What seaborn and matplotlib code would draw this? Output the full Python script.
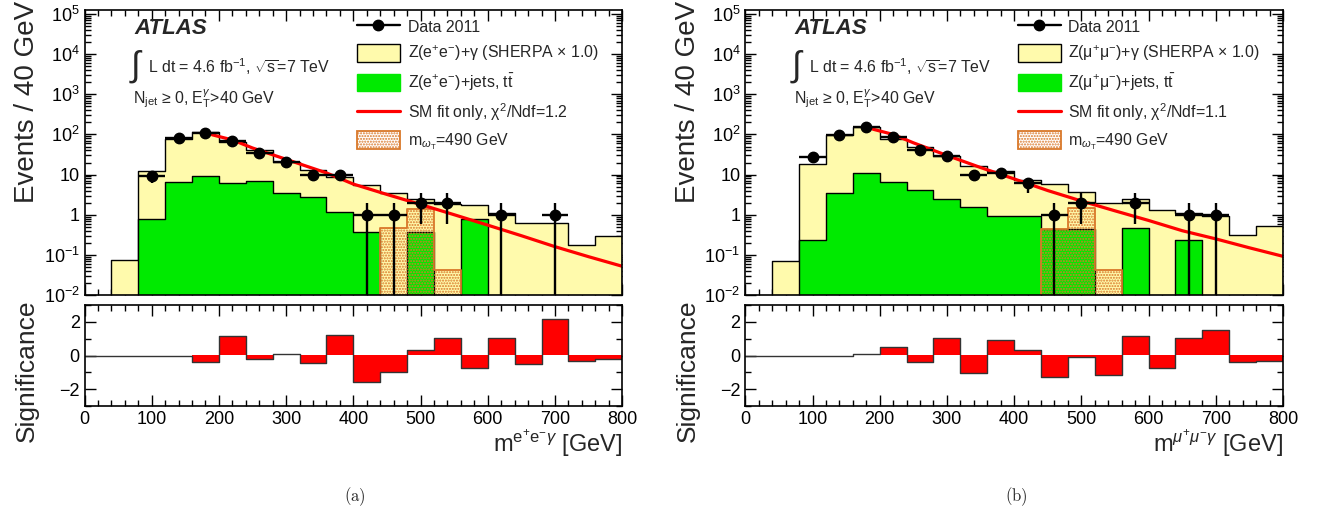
import matplotlib
matplotlib.use("Agg")
import matplotlib.pyplot as plt
import numpy as np
import pandas as pd
import seaborn as sns
from matplotlib.lines import Line2D
from matplotlib.patches import Patch
from matplotlib.ticker import MultipleLocator, LogLocator, NullFormatter

# bins: 40 GeV wide from 0 to 800 GeV
edges = np.arange(0, 801, 40)
centers = edges[:-1] + 20

# (a) electron channel
ee_zgamma = [0, 0.073, 12.4, 79, 112, 66, 40, 21, 13.2, 8.7, 5.6, 3.5, 2.4, 1.8, 1.7, 1.1, 0.62, 0.62, 0.18, 0.29]
ee_zjets = [0, 0, 0.78, 6.4, 9.0, 6.2, 7.1, 3.5, 2.7, 1.17, 0.38, 0, 0.38, 0, 0.78, 0, 0, 0, 0, 0]
ee_signal = [0, 0, 0, 0, 0, 0, 0, 0, 0, 0, 0, 0.47, 1.39, 0.041, 0, 0, 0, 0, 0, 0]
ee_data = [0, 0, 9, 80, 107, 70, 34, 21, 10, 10, 1, 1, 2, 2, 0, 1, 0, 1, 0, 0]
ee_fit_x = [190, 220, 250, 300, 360, 400, 450, 500, 550, 600, 650, 700, 750, 800]
ee_fit_y = [98, 73, 46, 24, 11, 5.8, 3.2, 1.8, 1.0, 0.55, 0.30, 0.16, 0.09, 0.052]
ee_signif = [0, 0, 0, 0, -0.36, 1.14, -0.22, 0.08, -0.45, 1.2, -1.58, -0.99, 0.34, 1.03, -0.77, 1.03, -0.49, 2.17, -0.30, -0.22]

# (b) muon channel
mm_zgamma = [0, 0.071, 18.6, 98, 152, 78, 48, 29, 16.6, 12, 7.4, 5.9, 3.6, 2.0, 2.4, 1.28, 1.1, 0.94, 0.31, 0.53]
mm_zjets = [0, 0, 0.23, 3.4, 10.9, 6.4, 4.2, 2.4, 1.6, 0.91, 0.91, 0.45, 0.45, 0, 0.47, 0, 0.23, 0, 0, 0]
mm_signal = [0, 0, 0, 0, 0, 0, 0, 0, 0, 0, 0, 0.45, 1.45, 0.043, 0, 0, 0, 0, 0, 0]
mm_data = [0, 0, 27, 96, 152, 84, 41, 29, 10, 11, 6, 1, 2, 0, 2, 0, 1, 1, 0, 0]
mm_fit_x = [190, 220, 250, 300, 350, 400, 450, 500, 550, 600, 650, 700, 750, 800]
mm_fit_y = [135, 100, 62, 30, 15, 7.8, 4.0, 2.2, 1.25, 0.72, 0.40, 0.25, 0.15, 0.092]
mm_signif = [0, 0, 0, 0, 0.08, 0.53, -0.36, 1.05, -1.05, 0.91, 0.30, -1.26, -0.08, -1.14, 1.18, -0.75, 1.03, 1.54, -0.39, -0.32]

ee_labels = ["Data 2011", r"Z(e$^{+}$e$^{-}$)+γ (SHERPA × 1.0)", r"Z(e$^{+}$e$^{-}$)+jets, t$\bar{\mathrm{t}}$",
             r"SM fit only, χ$^{2}$/Ndf=1.2", r"m$_{\omega_{\mathrm{T}}}$=490 GeV"]
mm_labels = ["Data 2011", r"Z(μ$^{+}$μ$^{-}$)+γ (SHERPA × 1.0)", r"Z(μ$^{+}$μ$^{-}$)+jets, t$\bar{\mathrm{t}}$",
             r"SM fit only, χ$^{2}$/Ndf=1.1", r"m$_{\omega_{\mathrm{T}}}$=490 GeV"]

YELLOW = "#fffaac"
GREEN = "#00ea00"
ORANGE = "#d9782a"

sns.set_theme(style="ticks")
plt.rcParams["font.family"] = ["Liberation Sans", "DejaVu Sans"]
plt.rcParams["mathtext.fontset"] = "custom"
plt.rcParams["mathtext.rm"] = "Liberation Sans"
plt.rcParams["mathtext.it"] = "Liberation Sans:italic"
plt.rcParams["mathtext.bf"] = "Liberation Sans:bold"
plt.rcParams["hatch.color"] = ORANGE
plt.rcParams["hatch.linewidth"] = 1.0

W, H = 1325, 516
fig = plt.figure(figsize=(W / 100, H / 100), dpi=100)


def fx(px):
    return px / W


def fy(py):
    return 1 - py / H


def hist(ax, vals, **kws):
    df = pd.DataFrame({"mass": centers.astype(float), "w": np.asarray(vals, dtype=float)})
    sns.histplot(data=df, x="mass", weights="w", bins=list(edges), element="step", ax=ax, legend=False, **kws)


def style_axes(ax):
    ax.tick_params(which="both", direction="in", top=True, right=True, labelsize=13, width=1.0, colors="black")
    ax.tick_params(which="major", length=8)
    ax.tick_params(which="minor", length=4)
    for sp in ax.spines.values():
        sp.set_linewidth(1.2)
        sp.set_color("black")
    ax.set_xlim(0, 800)
    ax.xaxis.set_major_locator(MultipleLocator(100))
    ax.xaxis.set_minor_locator(MultipleLocator(20))


def panel(x0, zg, zj, sig, data, fit_x, fit_y, signif, labels, xlab, tag):
    dx = x0 - 84.5
    ax = fig.add_axes([fx(x0), fy(295), fx(537.7), 285 / H])
    ax.set_yscale("log")
    hist(ax, zg, fill=True, color=YELLOW, edgecolor="black", linewidth=1.0, alpha=1)
    hist(ax, zj, fill=True, color=GREEN, edgecolor="black", linewidth=1.0, alpha=1)
    hist(ax, sig, fill=True, color=ORANGE, facecolor="none", edgecolor=ORANGE, hatch="......",
         linewidth=1.3, alpha=1)
    sns.lineplot(x=fit_x, y=fit_y, color="red", linewidth=2.3, ax=ax)
    d = np.array(data, dtype=float)
    m = d > 0
    ax.errorbar(centers[m], d[m], xerr=20, yerr=np.sqrt(d[m]), fmt="o", color="black",
                ms=7.5, elinewidth=1.7, capsize=0, zorder=5)
    style_axes(ax)
    ax.yaxis.set_minor_locator(LogLocator(base=10, subs=np.arange(2, 10), numticks=20))
    ax.yaxis.set_minor_formatter(NullFormatter())
    ax.set_yticks([1e-2, 1e-1, 1, 10, 1e2, 1e3, 1e4, 1e5],
                  [r"10$^{-2}$", r"10$^{-1}$", "1", "10", r"10$^{2}$", r"10$^{3}$", r"10$^{4}$", r"10$^{5}$"])
    ax.set_ylim(1e-2, 1.26e5)
    ax.tick_params(labelbottom=False)
    ax.set_xlabel("")
    ax.set_ylabel("")

    handles = [
        Line2D([], [], color="black", marker="o", ms=7.5, lw=1.7),
        Patch(facecolor=YELLOW, edgecolor="black", lw=1.0),
        Patch(facecolor=GREEN, edgecolor=GREEN, lw=1.0),
        Line2D([], [], color="red", lw=2.3),
        Patch(facecolor="white", edgecolor=ORANGE, hatch="......", lw=1.3),
    ]
    ax.legend(handles, labels, loc="upper left", bbox_to_anchor=(fx(357 + dx), fy(18)),
              bbox_transform=fig.transFigure, frameon=False, fontsize=11.4, handlelength=2.7,
              handleheight=1.3, labelspacing=0.53, handletextpad=0.5, borderpad=0, borderaxespad=0)

    fig.text(fx(134 + dx), fy(28), "ATLAS", fontsize=16, fontweight="bold", fontstyle="italic", va="center")
    fig.text(fx(131 + dx), fy(66), "∫", fontsize=25, va="center")
    fig.text(fx(148 + dx), fy(67), r"L dt = 4.6 fb$^{-1}$, $\sqrt{\mathrm{s}}$=7 TeV", fontsize=11.4, va="center")
    fig.text(fx(133 + dx), fy(99), r"N$_{\mathrm{jet}}$ ≥ 0, E$_{\mathrm{T}}^{\gamma}$>40 GeV", fontsize=11.4, va="center")

    # significance panel
    ax2 = fig.add_axes([fx(x0), fy(406), fx(537.7), 101 / H])
    hist(ax2, signif, fill=True, color="red", linewidth=0, alpha=1)
    hist(ax2, signif, fill=False, color="#333333", linewidth=1.0)
    style_axes(ax2)
    ax2.set_ylim(-3, 3)
    ax2.set_yticks([-2, 0, 2])
    ax2.yaxis.set_minor_locator(MultipleLocator(1))
    ax2.set_xlabel("")
    ax2.set_ylabel("")
    fig.text(fx(622 + dx), fy(443), xlab, fontsize=17, ha="right", va="center")

    fig.text(fx(27 + dx), fy(1), "Events / 40 GeV", fontsize=20, rotation=90, ha="center", va="top")
    fig.text(fx(27 + dx), fy(300), "Significance", fontsize=19, rotation=90, ha="center", va="top")
    fig.text(fx(355 + dx), fy(497), r"$\mathrm{" + tag + "}$", math_fontfamily="cm", fontsize=12,
             ha="center", va="center")


panel(84.5, ee_zgamma, ee_zjets, ee_signal, ee_data, ee_fit_x, ee_fit_y, ee_signif, ee_labels,
      r"m$^{\mathrm{e}^{+}\mathrm{e}^{-}\gamma}$ [GeV]", "(a)")
panel(745.3, mm_zgamma, mm_zjets, mm_signal, mm_data, mm_fit_x, mm_fit_y, mm_signif, mm_labels,
      r"m$^{\mu^{+}\mu^{-}\gamma}$ [GeV]", "(b)")

fig.savefig("out.png", dpi=100, facecolor="white")
